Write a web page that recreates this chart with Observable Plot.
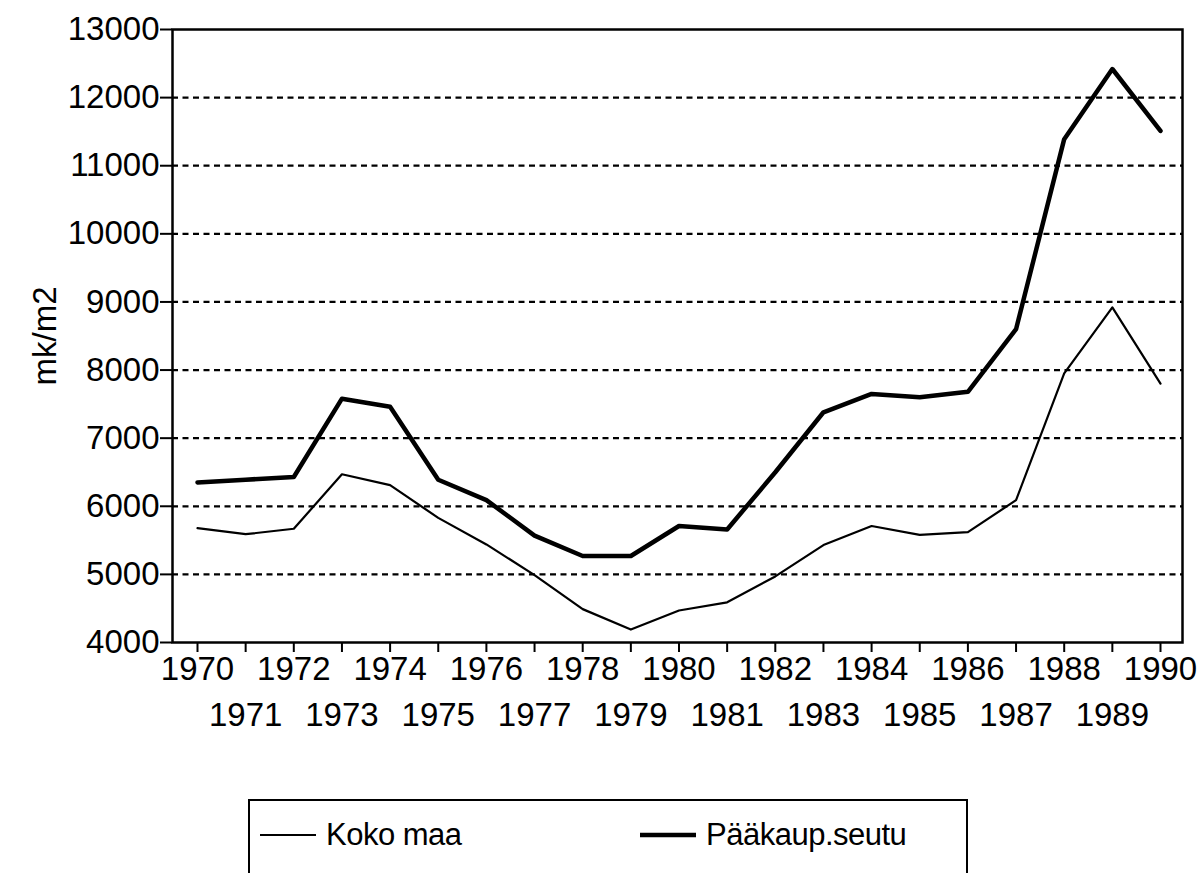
<!DOCTYPE html>
<html><head><meta charset="utf-8">
<script src="https://cdn.jsdelivr.net/npm/d3@7"></script>
<script src="https://cdn.jsdelivr.net/npm/@observablehq/plot@0.6"></script>
<style>
body{margin:0;background:#fff;font-family:"Liberation Sans",Arial,sans-serif;}
#wrap{position:relative;width:1204px;height:873px;overflow:hidden;background:#fff;}
#legend{position:absolute;left:248px;top:799px;width:720px;height:140px;border:2px solid #000;box-sizing:border-box;}
.item{position:absolute;top:16px;display:flex;align-items:center;font-size:31px;color:#000;letter-spacing:-0.5px;}
.item svg{margin-right:10px;}
</style></head><body>
<div id="wrap"><div id="chart"></div><div id="legend"></div></div>
<script>
const years = [1970,1971,1972,1973,1974,1975,1976,1977,1978,1979,1980,1981,1982,1983,1984,1985,1986,1987,1988,1989,1990];
const kokoMaa = [5680,5590,5670,6470,6310,5830,5440,4990,4490,4190,4470,4590,4970,5430,5710,5580,5620,6090,7950,8920,7800];
const paakaup = [6350,6390,6430,7580,7460,6390,6090,5570,5270,5270,5710,5660,6500,7380,7650,7600,7680,8600,11390,12420,11510];
const seriesNames = ["Koko maa","Pääkaup.seutu"];
const seriesWidths = [2.2,4.5];
const yTicks = [4000,5000,6000,7000,8000,9000,10000,11000,12000,13000];
const gridTicks = [5000,6000,7000,8000,9000,10000,11000,12000];
const evenYears = years.filter(y => y % 2 === 0);
const oddYears = years.filter(y => y % 2 === 1);
const yLabel = "mk/m2";

const rows = [];
[kokoMaa, paakaup].forEach((vals, s) => vals.forEach((v, i) => rows.push({year: years[i], value: v, series: seriesNames[s]})));

const chart = Plot.plot({
  width: 1204,
  height: 760,
  marginLeft: 172,
  marginRight: 22,
  marginTop: 29,
  marginBottom: 118,
  style: {fontFamily: '"Liberation Sans", Arial, sans-serif', fontSize: "33px", color: "#000", background: "#fff"},
  x: {domain: [1970, 1990], insetLeft: 25, insetRight: 22},
  y: {domain: [4000, 13000]},
  marks: [
    Plot.gridY(gridTicks, {stroke: "#000", strokeOpacity: 1, strokeWidth: 2.2, strokeDasharray: "6,4.5"}),
    Plot.axisY(yTicks, {tickSize: 12, tickPadding: 1, tickFormat: d => String(d), fontSize: 33, stroke: "#000", strokeWidth: 2, label: null}),
    Plot.text([yLabel], {frameAnchor: "left", textAnchor: "middle", dx: -127, rotate: -90, fontSize: 33, fill: "#000"}),
    Plot.axisX(evenYears, {tickSize: 10, tickPadding: 4, tickFormat: d => String(d), fontSize: 33, stroke: "#000", strokeWidth: 2, label: null}),
    Plot.axisX(oddYears, {tickSize: 10, tickPadding: 50, tickFormat: d => String(d), fontSize: 33, stroke: "#000", strokeWidth: 2, label: null}),
    Plot.line(rows.filter(d => d.series === seriesNames[0]), {x: "year", y: "value", stroke: "#000", strokeWidth: seriesWidths[0]}),
    Plot.line(rows.filter(d => d.series === seriesNames[1]), {x: "year", y: "value", stroke: "#000", strokeWidth: seriesWidths[1]}),
    Plot.frame({stroke: "#000", strokeWidth: 2.5})
  ]
});
document.getElementById("chart").appendChild(chart);

const legend = document.getElementById("legend");
const offsets = [10, 390];
seriesNames.forEach((name, i) => {
  const it = document.createElement("div");
  it.className = "item";
  it.style.left = offsets[i] + "px";
  it.innerHTML = `<svg width="56" height="20"><line x1="0" x2="56" y1="10" y2="10" stroke="#000" stroke-width="${seriesWidths[i]}"/></svg><span>${name}</span>`;
  legend.appendChild(it);
});
</script>
</body></html>
